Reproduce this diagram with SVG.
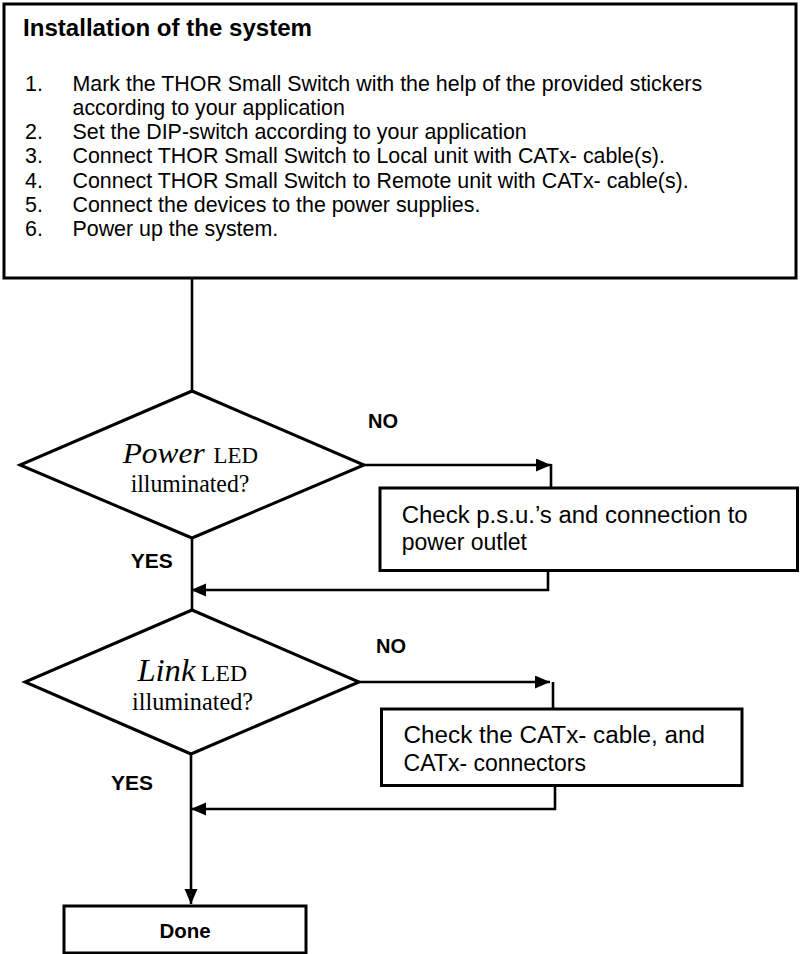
<svg xmlns="http://www.w3.org/2000/svg" width="800" height="954" viewBox="0 0 800 954">
<style>
.box{fill:#fff;stroke:#000;stroke-width:3}
.dia{fill:#fff;stroke:#000;stroke-width:3;stroke-linejoin:miter}
.ln{fill:none;stroke:#000;stroke-width:2.6}
.sans{font-family:"Liberation Sans",Arial,sans-serif;fill:#000}
.b{font-weight:bold}
.serif{font-family:"Liberation Serif","Times New Roman",serif;fill:#000}
.list{font-size:21.4px}
.bt{font-size:23px}
</style>
<defs>
<marker id="ah" markerUnits="userSpaceOnUse" markerWidth="16" markerHeight="14" refX="15" refY="6.5" orient="auto">
<path d="M0,0 L15,6.5 L0,13 z" fill="#000"/>
</marker>
</defs>
<g id="connectors">
<path class="ln" d="M192,278 V391"/>
<path class="ln" d="M364,465 H551" marker-end="url(#ah)"/>
<path class="ln" d="M551,464 V488"/>
<path class="ln" d="M548,571 V590 H191" marker-end="url(#ah)"/>
<path class="ln" d="M192,538 V610"/>
<path class="ln" d="M359,682 H550" marker-end="url(#ah)"/>
<path class="ln" d="M553,682 V709"/>
<path class="ln" d="M555,786 V809 H191" marker-end="url(#ah)"/>
<path class="ln" d="M191,754 V904" marker-end="url(#ah)"/>
</g>
<g id="install">
<rect class="box" x="4" y="4" width="792" height="274"/>
<text class="sans b" x="23" y="36" font-size="23" textLength="289" lengthAdjust="spacingAndGlyphs">Installation of the system</text>
<g class="sans list">
<text x="25" y="90.5">1.</text><text x="72.5" y="90.5">Mark the THOR Small Switch with the help of the provided stickers</text>
<text x="72.5" y="114.5">according to your application</text>
<text x="25" y="139">2.</text><text x="72.5" y="139">Set the DIP-switch according to your application</text>
<text x="25" y="163.3">3.</text><text x="72.5" y="163.3">Connect THOR Small Switch to Local unit with CATx- cable(s).</text>
<text x="25" y="187.7">4.</text><text x="72.5" y="187.7">Connect THOR Small Switch to Remote unit with CATx- cable(s).</text>
<text x="25" y="212">5.</text><text x="72.5" y="212">Connect the devices to the power supplies.</text>
<text x="25" y="236">6.</text><text x="72.5" y="236">Power up the system.</text>
</g>
</g>
<g id="power-dec">
<polygon class="dia" points="192,391 364,465 192,538 20,465"/>
<text class="serif" x="122.7" y="463" font-size="30" font-style="italic" textLength="82" lengthAdjust="spacingAndGlyphs">Power</text>
<text class="serif" x="213.5" y="463" font-size="23" textLength="44.5" lengthAdjust="spacingAndGlyphs">LED</text>
<text class="serif" x="130.7" y="492" font-size="25" textLength="118.6" lengthAdjust="spacingAndGlyphs">illuminated?</text>
</g>
<text class="sans b" x="368" y="428" font-size="20">NO</text>
<text class="sans b" x="130.7" y="568" font-size="21">YES</text>
<g id="check-psu">
<rect class="box" x="380" y="488" width="417.5" height="82.5"/>
<text class="sans bt" x="401.7" y="523" textLength="346" lengthAdjust="spacingAndGlyphs">Check p.s.u.’s and connection to</text>
<text class="sans bt" x="401.7" y="550">power outlet</text>
</g>
<g id="link-dec">
<polygon class="dia" points="192,610 359,682 191,754 25,682"/>
<text class="serif" x="137.4" y="681" font-size="32" font-style="italic" textLength="58" lengthAdjust="spacingAndGlyphs">Link</text>
<text class="serif" x="201" y="681" font-size="23" textLength="46" lengthAdjust="spacingAndGlyphs">LED</text>
<text class="serif" x="132" y="710" font-size="25" textLength="121" lengthAdjust="spacingAndGlyphs">illuminated?</text>
</g>
<text class="sans b" x="376" y="653" font-size="20">NO</text>
<text class="sans b" x="111" y="790" font-size="21">YES</text>
<g id="check-cat">
<rect class="box" x="381.5" y="709" width="360.5" height="76.5"/>
<text class="sans bt" x="403.6" y="743.3" textLength="301.4" lengthAdjust="spacingAndGlyphs">Check the CATx- cable, and</text>
<text class="sans bt" x="403.6" y="771">CATx- connectors</text>
</g>
<g id="done">
<rect class="box" x="64" y="906" width="242" height="47"/>
<text class="sans b" x="185" y="938" font-size="20.5" text-anchor="middle">Done</text>
</g>
</svg>
